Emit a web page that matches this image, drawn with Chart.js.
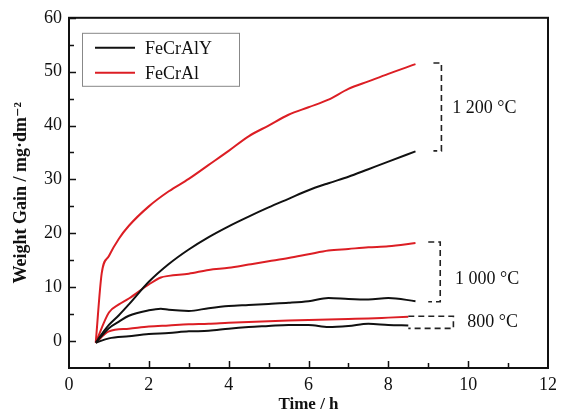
<!DOCTYPE html>
<html>
<head>
<meta charset="utf-8">
<script src="https://cdn.jsdelivr.net/npm/chart.js@4"></script>
<style>
  body { margin: 0; background: #fff; }
  #wrap { width: 567px; height: 415px; }
</style>
</head>
<body>
<div id="wrap"><canvas id="gainChart" width="567" height="415"></canvas></div>
<script>
const alloys = ['FeCrAlY', 'FeCrAl'];
const xTicks = [0, 2, 4, 6, 8, 10, 12];
const yTicks = [0, 10, 20, 30, 40, 50, 60];

const hours1200 = [0.67, 0.82, 1.0, 1.25, 1.5, 2.0, 2.5, 3.0, 3.5, 4.0, 4.5, 5.0, 5.5, 6.0, 6.5, 7.0, 7.5, 8.0, 8.68];
const al1200 = [-0.3, 12.6, 15.8, 19.0, 21.4, 25.0, 27.8, 30.1, 32.7, 35.3, 38.0, 40.0, 42.0, 43.4, 44.8, 46.8, 48.2, 49.6, 51.4];
const aly1200 = [-0.3, 1.3, 3.0, 4.8, 6.8, 11.0, 14.3, 17.0, 19.3, 21.3, 23.1, 24.8, 26.4, 28.0, 29.3, 30.5, 31.9, 33.3, 35.2];

const hours1000 = [0.67, 1.0, 1.25, 1.5, 2.0, 2.3, 2.5, 3.0, 3.5, 4.0, 4.5, 5.0, 5.5, 6.0, 6.5, 7.0, 7.5, 8.0, 8.68];
const al1000 = [-0.3, 5.3, 6.8, 7.9, 10.5, 11.8, 12.1, 12.5, 13.2, 13.6, 14.2, 14.8, 15.4, 16.1, 16.8, 17.1, 17.4, 17.6, 18.2];
const aly1000 = [-0.3, 2.4, 3.6, 4.7, 5.7, 6.0, 5.8, 5.6, 6.1, 6.5, 6.7, 6.9, 7.1, 7.4, 8.0, 7.8, 7.7, 8.0, 7.4];

const hours800 = [0.67, 1.0, 1.5, 2.0, 2.5, 3.0, 3.5, 4.0, 4.5, 5.0, 5.5, 6.0, 6.5, 7.0, 7.5, 8.0, 8.5];
const al800 = [-0.3, 1.8, 2.3, 2.7, 2.9, 3.1, 3.2, 3.4, 3.55, 3.7, 3.8, 3.9, 4.0, 4.1, 4.2, 4.35, 4.5];
const aly800 = [-0.3, 0.5, 0.9, 1.3, 1.5, 1.8, 1.9, 2.3, 2.6, 2.8, 3.0, 3.0, 2.6, 2.8, 3.2, 3.0, 2.9];

// temperature brackets, in data units
const brackets = [
  { label: '1 200 °C', x0: 9.13, x1: 9.33, yTop: 51.6, yBot: 35.3, tx: 9.6, ty: 43.3 },
  { label: '1 000 °C', x0: 9.0, x1: 9.3, yTop: 18.4, yBot: 7.3, tx: 9.67, ty: 11.4 },
  { label: '800 °C', x0: 8.5, x1: 9.63, yTop: 4.6, yBot: 2.35, tx: 9.98, ty: 3.5 }
];

const BLACK = '#111111';
const RED = '#dc1e24';
const SERIF = "'Liberation Serif', 'DejaVu Serif', serif";

const pts = (xs, ys) => xs.map((x, i) => ({ x: x, y: ys[i] }));
const line = (label, xs, ys, color) => ({
  label: label,
  data: pts(xs, ys),
  borderColor: color,
  borderWidth: 2,
  pointRadius: 0,
  fill: false,
  cubicInterpolationMode: 'monotone'
});

const framePlugin = {
  id: 'frame',
  afterDraw(chart) {
    const c = chart.ctx;
    const a = chart.chartArea;
    const xs = chart.scales.x, ys = chart.scales.y;
    c.save();
    c.strokeStyle = '#111';
    c.lineWidth = 2;
    c.strokeRect(a.left, a.top, a.right - a.left, a.bottom - a.top);
    c.lineWidth = 1.5;
    c.beginPath();
    for (let v = 0; v <= 60; v += 5) {
      const y = Math.round(ys.getPixelForValue(v)) + 0.5;
      const len = v % 10 === 0 ? 7 : 5;
      c.moveTo(a.left, y); c.lineTo(a.left + len, y);
    }
    for (let v = 1; v < 12; v += 1) {
      const x = Math.round(xs.getPixelForValue(v)) + 0.5;
      const len = v % 2 === 0 ? 7 : 5;
      c.moveTo(x, a.bottom); c.lineTo(x, a.bottom - len);
    }
    c.stroke();

    // brackets
    c.setLineDash([6, 4]);
    c.strokeStyle = '#222';
    c.lineWidth = 1.6;
    brackets.forEach(b => {
      const x0 = xs.getPixelForValue(b.x0), x1 = xs.getPixelForValue(b.x1);
      const yt = ys.getPixelForValue(b.yTop), yb = ys.getPixelForValue(b.yBot);
      c.beginPath();
      c.moveTo(x0, yt); c.lineTo(x1, yt); c.lineTo(x1, yb); c.lineTo(x0, yb);
      c.stroke();
    });
    c.setLineDash([]);
    c.fillStyle = '#111';
    c.font = '18px ' + SERIF;
    c.textBaseline = 'middle';
    c.textAlign = 'left';
    brackets.forEach(b => {
      c.fillText(b.label, xs.getPixelForValue(b.tx), ys.getPixelForValue(b.ty));
    });

    // legend box
    const lx = a.left + 13, ly = a.top + 15;
    c.strokeStyle = '#888';
    c.lineWidth = 1;
    c.strokeRect(lx + 0.5, ly + 0.5, 157, 53);
    [BLACK, RED].forEach((col, i) => {
      const y = ly + 15 + i * 25;
      c.strokeStyle = col;
      c.lineWidth = 2;
      c.beginPath();
      c.moveTo(lx + 13, y); c.lineTo(lx + 53, y);
      c.stroke();
      c.fillStyle = '#111';
      c.fillText(alloys[i], lx + 63, y + 1);
    });
    c.restore();
  }
};

new Chart(document.getElementById('gainChart').getContext('2d'), {
  type: 'line',
  data: {
    datasets: [
      line(alloys[0], hours1200, aly1200, BLACK),
      line(alloys[1], hours1200, al1200, RED),
      line(alloys[0], hours1000, aly1000, BLACK),
      line(alloys[1], hours1000, al1000, RED),
      line(alloys[0], hours800, aly800, BLACK),
      line(alloys[1], hours800, al800, RED)
    ]
  },
  options: {
    responsive: false,
    animation: false,
    layout: { padding: { top: 17, right: 19, left: 0, bottom: 0 } },
    plugins: {
      legend: { display: false },
      tooltip: { enabled: false }
    },
    scales: {
      x: {
        type: 'linear',
        min: 0,
        max: 12,
        afterBuildTicks: s => { s.ticks = xTicks.map(v => ({ value: v })); },
        afterFit: s => { s.height = 47; },
        grid: { display: false, drawTicks: false, tickLength: 0 },
        border: { display: false },
        ticks: { color: '#111', padding: 6, font: { family: SERIF, size: 18 } },
        title: {
          display: true,
          text: 'Time / h',
          color: '#111',
          padding: { top: 0, bottom: 0 },
          font: { family: SERIF, size: 17, weight: 'bold' }
        }
      },
      y: {
        type: 'linear',
        min: -5,
        max: 60,
        afterBuildTicks: s => { s.ticks = yTicks.map(v => ({ value: v })); },
        afterFit: s => { s.width = 69; },
        grid: { display: false, drawTicks: false, tickLength: 0 },
        border: { display: false },
        ticks: { color: '#111', padding: 7, font: { family: SERIF, size: 18 } },
        title: {
          display: true,
          text: 'Weight Gain / mg·dm⁻²',
          color: '#111',
          padding: { top: 11, bottom: 0 },
          font: { family: SERIF, size: 18, weight: 'bold' }
        }
      }
    }
  },
  plugins: [framePlugin]
});
</script>
</body>
</html>
